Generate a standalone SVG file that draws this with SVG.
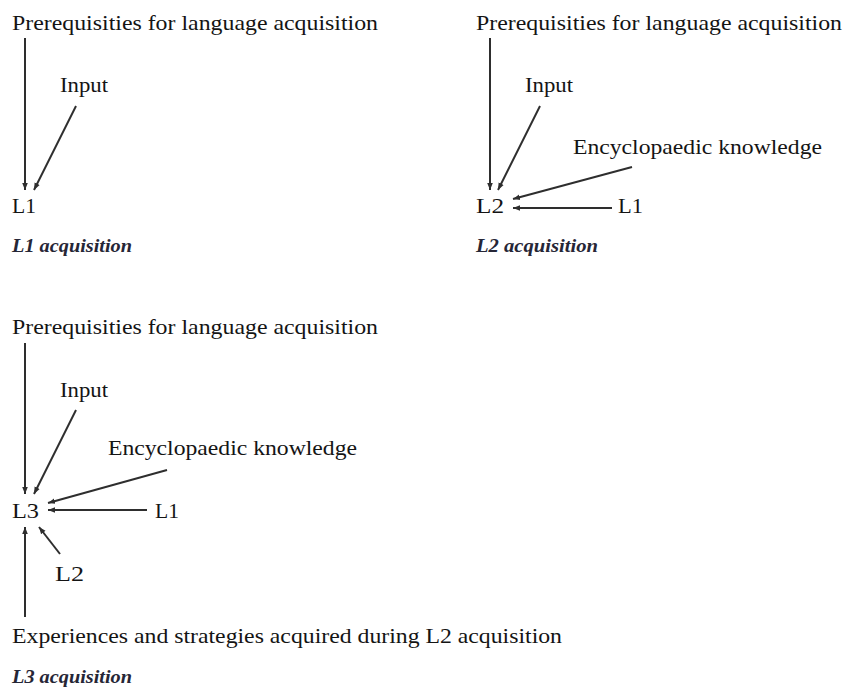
<svg xmlns="http://www.w3.org/2000/svg" width="846" height="687" viewBox="0 0 846 687">
<defs>
<style>
text{font-family:'Liberation Serif', 'Times New Roman', serif;font-size:21px;fill:#141414}
text.cap{font-size:18px;font-style:italic;font-weight:bold;fill:#262636}
.c line{stroke:#2e2e2e;stroke-width:2;marker-end:url(#ah)}
</style>
<marker id="ah" viewBox="0 0 10 10" refX="10" refY="5" markerWidth="3.5" markerHeight="3.5" orient="auto" markerUnits="strokeWidth">
<path d="M0,1 L10,5 L0,9 Z" fill="#2e2e2e"/>
</marker>
</defs>
<rect width="846" height="687" fill="#fff"/>

<!-- Panel 1 -->
<g id="p1-prereq"><text x="12" y="30" textLength="366" lengthAdjust="spacingAndGlyphs">Prerequisities for language acquisition</text></g>
<g id="p1-input"><text x="60" y="92" textLength="48" lengthAdjust="spacingAndGlyphs">Input</text></g>
<g id="p1-l1"><text x="12" y="213" textLength="24" lengthAdjust="spacingAndGlyphs">L1</text></g>
<g id="p1-caption"><text class="cap" x="12" y="252" textLength="120" lengthAdjust="spacingAndGlyphs">L1 acquisition</text></g>

<!-- Panel 2 -->
<g id="p2-prereq"><text x="476" y="30" textLength="366" lengthAdjust="spacingAndGlyphs">Prerequisities for language acquisition</text></g>
<g id="p2-input"><text x="525" y="92" textLength="48" lengthAdjust="spacingAndGlyphs">Input</text></g>
<g id="p2-ency"><text x="573" y="154" textLength="249" lengthAdjust="spacingAndGlyphs">Encyclopaedic knowledge</text></g>
<g id="p2-l2"><text x="476" y="213" textLength="28" lengthAdjust="spacingAndGlyphs">L2</text></g>
<g id="p2-l1"><text x="618" y="213" textLength="25" lengthAdjust="spacingAndGlyphs">L1</text></g>
<g id="p2-caption"><text class="cap" x="476" y="252" textLength="122" lengthAdjust="spacingAndGlyphs">L2 acquisition</text></g>

<!-- Panel 3 -->
<g id="p3-prereq"><text x="12" y="334" textLength="366" lengthAdjust="spacingAndGlyphs">Prerequisities for language acquisition</text></g>
<g id="p3-input"><text x="60" y="397" textLength="48" lengthAdjust="spacingAndGlyphs">Input</text></g>
<g id="p3-ency"><text x="108" y="455" textLength="249" lengthAdjust="spacingAndGlyphs">Encyclopaedic knowledge</text></g>
<g id="p3-l3"><text x="12" y="518" textLength="27" lengthAdjust="spacingAndGlyphs">L3</text></g>
<g id="p3-l1"><text x="155" y="518" textLength="24" lengthAdjust="spacingAndGlyphs">L1</text></g>
<g id="p3-l2"><text x="55" y="581" textLength="29" lengthAdjust="spacingAndGlyphs">L2</text></g>
<g id="p3-exp"><text x="12" y="643" textLength="550" lengthAdjust="spacingAndGlyphs">Experiences and strategies acquired during L2 acquisition</text></g>
<g id="p3-caption"><text class="cap" x="12" y="683" textLength="120" lengthAdjust="spacingAndGlyphs">L3 acquisition</text></g>

<g id="connectors" class="c">
<line x1="25" y1="38" x2="25" y2="190"/>
<line x1="76" y1="106" x2="34" y2="190"/>

<line x1="490" y1="38" x2="490" y2="190"/>
<line x1="540" y1="106" x2="498" y2="190"/>
<line x1="632" y1="167" x2="513" y2="199"/>
<line x1="612" y1="208" x2="513" y2="208"/>

<line x1="25" y1="343" x2="25" y2="494"/>
<line x1="76" y1="410" x2="34" y2="494"/>
<line x1="167" y1="470" x2="48" y2="503"/>
<line x1="147" y1="510" x2="48" y2="510"/>
<line x1="25" y1="617" x2="25" y2="527"/>
<line x1="60" y1="554" x2="39" y2="527"/>
</g>
</svg>
